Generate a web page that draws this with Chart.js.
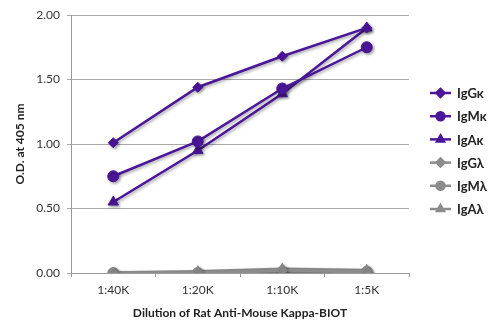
<!DOCTYPE html>
<html>
<head>
<meta charset="utf-8">
<script src="https://cdn.jsdelivr.net/npm/chart.js@4/dist/chart.umd.min.js"></script>
<style>
  html, body { margin: 0; padding: 0; background: #fff; }
  #wrap { width: 500px; height: 334px; }
</style>
</head>
<body>
<div id="wrap"><canvas id="chart" width="500" height="334"></canvas></div>
<script>
// Dilution series and O.D. readings
const dilutions = ['1:40K', '1:20K', '1:10K', '1:5K'];
const yTicks = [0, 0.5, 1.0, 1.5, 2.0];

const igGk = [1.01, 1.44, 1.68, 1.90];
const igMk = [0.75, 1.02, 1.43, 1.75];
const igAk = [0.55, 0.95, 1.39, 1.90];
const igGl = [0.00, 0.00, 0.02, 0.01];
const igMl = [0.00, 0.00, 0.01, 0.01];
const igAl = [0.00, 0.01, 0.03, 0.02];

const seriesNames = ['IgGκ', 'IgMκ', 'IgAκ', 'IgGλ', 'IgMλ', 'IgAλ'];

const PURPLE = '#4b1699';
const GREY = '#8c8c8c';
const FONT = 'Lato, "Open Sans", sans-serif';

function makeSet(label, data, color, style, radius, width) {
    return {
        label: label,
        data: data,
        borderColor: color,
        backgroundColor: color,
        pointStyle: style,
        pointRadius: radius,
        pointHoverRadius: radius,
        borderWidth: width,
        pointBorderWidth: 1,
        tension: 0,
        fill: false
    };
}

// soft drop shadow under the plotted lines
const lineShadow = {
    id: 'lineShadow',
    beforeDatasetsDraw(chart) {
        const ctx = chart.ctx;
        ctx.save();
        ctx.shadowColor = 'rgba(0,0,0,0.35)';
        ctx.shadowBlur = 3;
        ctx.shadowOffsetX = 1.5;
        ctx.shadowOffsetY = 1.5;
    },
    afterDatasetsDraw(chart) {
        chart.ctx.restore();
    }
};

// legend on the right: short line with the marker, then the name
const sideLegend = {
    id: 'sideLegend',
    afterDraw(chart) {
        const ctx = chart.ctx;
        const x0 = 430, x1 = 451, tx = 457;
        let y = 93;
        ctx.save();
        chart.data.datasets.forEach(ds => {
            ctx.strokeStyle = ds.borderColor;
            ctx.lineWidth = 2.5;
            ctx.beginPath();
            ctx.moveTo(x0, y);
            ctx.lineTo(x1, y);
            ctx.stroke();
            Chart.helpers.drawPoint(ctx, {
                pointStyle: ds.pointStyle,
                radius: 4,
                borderWidth: 1,
                rotation: 0
            }, (x0 + x1) / 2, y);
            ctx.fillStyle = ds.borderColor;
            ctx.fill();
            ctx.fillStyle = '#222';
            ctx.font = 'bold 13px ' + FONT;
            ctx.textBaseline = 'middle';
            ctx.textAlign = 'left';
            ctx.fillText(ds.label, tx, y + 1);
            y += 23.2;
        });
        ctx.restore();
    }
};

new Chart(document.getElementById('chart'), {
    type: 'line',
    data: {
        labels: dilutions,
        datasets: [
            makeSet(seriesNames[0], igGk, PURPLE, 'rectRot', 5, 2.5),
            makeSet(seriesNames[1], igMk, PURPLE, 'circle', 5.5, 2.5),
            makeSet(seriesNames[2], igAk, PURPLE, 'triangle', 6, 2.5),
            makeSet(seriesNames[3], igGl, GREY, 'rectRot', 5, 3.5),
            makeSet(seriesNames[4], igMl, GREY, 'circle', 5.5, 3.5),
            makeSet(seriesNames[5], igAl, GREY, 'triangle', 6, 3.5)
        ]
    },
    options: {
        responsive: false,
        animation: false,
        layout: { padding: { top: 15, right: 91, left: 13, bottom: 14 } },
        plugins: {
            legend: { display: false },
            tooltip: { enabled: false }
        },
        scales: {
            x: {
                offset: true,
                grid: {
                    offset: true,
                    drawOnChartArea: false,
                    drawTicks: true,
                    tickLength: 4,
                    color: '#999'
                },
                border: { color: '#999', width: 1 },
                ticks: {
                    color: '#333',
                    font: { family: FONT, size: 12 },
                    padding: 6,
                    maxRotation: 0
                },
                title: {
                    display: true,
                    text: 'Dilution of Rat Anti-Mouse Kappa-BIOT',
                    color: '#222',
                    font: { family: FONT, size: 12, weight: 'bold' },
                    padding: { top: 8, bottom: 0 }
                },
                afterFit(scale) { scale.height = 47; }
            },
            y: {
                min: 0,
                max: 2,
                afterBuildTicks(scale) {
                    scale.ticks = yTicks.map(v => ({ value: v }));
                },
                grid: {
                    color: '#aaa',
                    tickLength: 4,
                    lineWidth: 1
                },
                border: { color: '#999', width: 1 },
                ticks: {
                    color: '#333',
                    font: { family: FONT, size: 12 },
                    padding: 7,
                    callback: v => Number(v).toFixed(2)
                },
                title: {
                    display: true,
                    text: 'O.D. at 405 nm',
                    color: '#222',
                    font: { family: FONT, size: 12, weight: 'bold' },
                    padding: { top: 0, bottom: 4 }
                },
                afterFit(scale) { scale.width = 58; }
            }
        }
    },
    plugins: [lineShadow, sideLegend]
});
</script>
</body>
</html>
